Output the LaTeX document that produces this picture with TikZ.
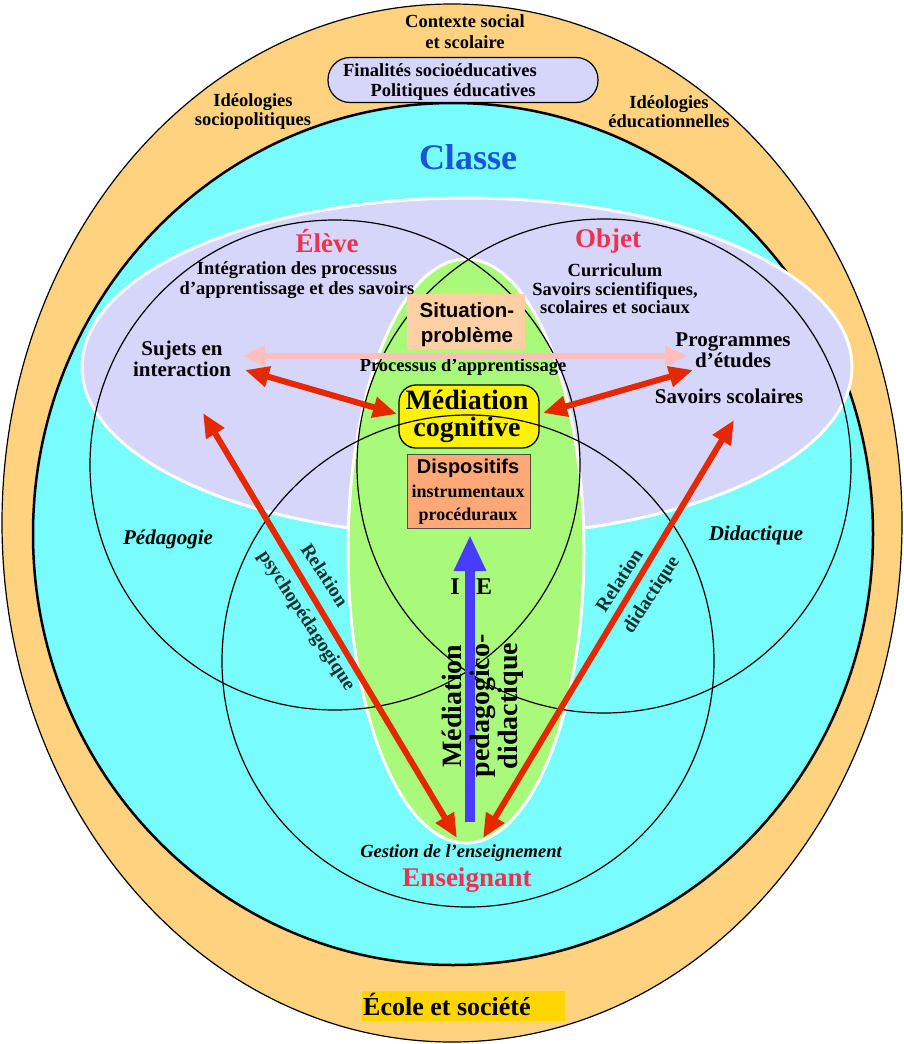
\documentclass[tikz,border=0pt]{standalone}
\usepackage{fontspec}
\setmainfont{Liberation Serif}
\newfontfamily\hv{Liberation Sans}
\usetikzlibrary{arrows.meta}
\definecolor{orangebg}{HTML}{FED27F}
\definecolor{cyanbg}{HTML}{78FCFC}
\definecolor{lav}{HTML}{D6D6FA}
\definecolor{greenbg}{HTML}{A9F97A}
\definecolor{peach}{HTML}{FFD0A5}
\definecolor{salmon}{HTML}{FFA878}
\definecolor{redA}{HTML}{E52800}
\definecolor{pinkA}{HTML}{FFBEBE}
\definecolor{titlered}{HTML}{F0304F}
\definecolor{classeblue}{HTML}{1A55D8}
\definecolor{arrowblue}{HTML}{4A3CFF}
\definecolor{ecole}{HTML}{FFD500}
\definecolor{reltext}{HTML}{15302F}
\begin{document}
\begin{tikzpicture}[x=1pt,y=-1pt,
  lbl/.style={align=center, inner sep=0pt, font=\bfseries\fontsize{18.5}{20}\selectfont},
  big/.style={align=center, inner sep=0pt, font=\bfseries\fontsize{21}{21}\selectfont},
  ttl/.style={inner sep=0pt, text=titlered, font=\bfseries\fontsize{27}{27}\selectfont},
  itl/.style={inner sep=0pt, font=\bfseries\itshape\fontsize{21}{21}\selectfont},
  rel/.style={align=center, inner sep=0pt, text=reltext, font=\bfseries\fontsize{19.5}{20}\selectfont},
  ring/.style={draw=black, line width=1.2pt},
  redarr/.style={draw=redA, line width=6pt, {Triangle[length=24pt,width=20pt]}-{Triangle[length=24pt,width=20pt]}},
]
\useasboundingbox (0,0) rectangle (904,1044);
% background ellipses
\fill[orangebg, draw=black, line width=1.2pt] (452,523) ellipse [x radius=450pt, y radius=519pt];
\fill[cyanbg, draw=black, line width=2.5pt] (453,534) ellipse [x radius=420pt, y radius=431pt];
\fill[lav, draw=white, line width=3pt] (467,367) ellipse [x radius=385pt, y radius=169pt];
\fill[greenbg, draw=white, line width=3pt] (466,551) ellipse [x radius=118pt, y radius=292pt];

% boxes under the rings
\node[draw=black, fill=lav, line width=1.2pt, rounded corners=22pt, minimum width=270pt, minimum height=45pt] (finbox) at (463,80) {};
\node[draw=black, fill=yellow, line width=1.3pt, rounded corners=17pt, minimum width=140pt, minimum height=63pt, inner sep=0pt] (medbox) at (469,416.5) {};
\node[draw=black!70, fill=salmon, line width=0.8pt, minimum width=123pt, minimum height=74pt, inner sep=0pt] (dispbox) at (468.5,491) {};
\node[fill=ecole, minimum width=203pt, minimum height=30pt, inner sep=0pt] (ecolebox) at (463.5,1006) {};

% circles
\draw[ring] (335,465) circle [radius=245pt];
\draw[ring] (604,466) circle [radius=247pt];
\draw[ring] (468,661) circle [radius=246pt];

% box over the rings
\node[fill=peach, minimum width=118pt, minimum height=55pt, inner sep=0pt] (sitbox) at (466,321.5) {};

% top labels
\node[lbl] (ctx) at (465,32) {Contexte social\\[1pt]et scolaire};
\node[lbl] (fin1) at (440,70) {Finalités socioéducatives};
\node[lbl] (fin2) at (453,92) {Politiques éducatives};
\node[lbl, font=\bfseries\fontsize{18.5}{19}\selectfont] (ideo1) at (253,112) {Idéologies\\sociopolitiques};
\node[lbl, font=\bfseries\fontsize{18.5}{19}\selectfont] (ideo2) at (669,112) {Idéologies\\éducationnelles};
\node[inner sep=0pt, text=classeblue, font=\bfseries\fontsize{36}{36}\selectfont] (classe) at (468,157) {Classe};

% eleve / objet
\node[ttl] (eleve) at (327,241) {Élève};
\node[lbl] (integ) at (297,280) {Intégration des processus\\d’apprentissage et des savoirs};
\node[ttl] (objet) at (608,241) {Objet};
\node[lbl, font=\bfseries\fontsize{18.5}{18.5}\selectfont] (curr) at (615,289) {Curriculum\\Savoirs scientifiques,\\scolaires et sociaux};
\node[big] (sujets) at (182,358.5) {Sujets en\\interaction};
\node[big] (prog) at (733,350.5) {Programmes\\d’études};
\node[big] (savsco) at (729,396) {Savoirs scolaires};

% center
\node[align=center, inner sep=0pt, font=\hv\bfseries\fontsize{20.5}{25}\selectfont] (sit) at (467,325) {Situation-\\problème};
\node[lbl] (proc) at (463,367) {Processus d’apprentissage};
\node[align=center, inner sep=0pt, font=\bfseries\fontsize{28}{27}\selectfont] (med) at (467,416) {Médiation\\cognitive};
\node[inner sep=0pt, font=\hv\bfseries\fontsize{20}{20}\selectfont] (disp) at (468,468) {Dispositifs};
\node[align=center, inner sep=0pt, font=\bfseries\fontsize{18}{23}\selectfont] (instr) at (468,504.5) {instrumentaux\\procéduraux};

\node[itl] (peda) at (168,539) {Pédagogie};
\node[itl] (dida) at (756,535) {Didactique};

\node[rel, rotate=-57] (rel1) at (325,575) {Relation};
\node[rel, rotate=-57] (rel2) at (306,621) {psychopédagogique};
\node[rel, rotate=57] (rel3) at (619,580) {Relation};
\node[rel, rotate=57] (rel4) at (652,595) {didactique};

% arrows
\coordinate (pinkL) at (243,356);
\coordinate (pinkR) at (687,356);
\draw[draw=pinkA, line width=6pt, {Triangle[length=22pt,width=20pt]}-{Triangle[length=22pt,width=20pt]}] (pinkL) -- (pinkR);
\coordinate (rA1) at (245,370);
\coordinate (rA2) at (397,414);
\coordinate (rB1) at (543,413);
\coordinate (rB2) at (693,370);
\draw[redarr] (rA1) -- (rA2);
\draw[redarr] (rB1) -- (rB2);

\coordinate (blueB) at (470,822);
\coordinate (blueT) at (470,535);
\draw[draw=arrowblue, line width=10pt, -{Triangle[length=36pt,width=30pt]}] (blueB) -- (blueT);

\coordinate (lT) at (203,413);
\coordinate (lB) at (457,838);
\coordinate (rT) at (734,420);
\coordinate (rB) at (483,838);
\draw[redarr] (lT) -- (lB);
\draw[redarr] (rT) -- (rB);

\node[inner sep=0pt, font=\bfseries\fontsize{24}{24}\selectfont] (iI) at (455,587) {I};
\node[inner sep=0pt, font=\bfseries\fontsize{24}{24}\selectfont] (iE) at (484,587) {E};
\node[rotate=90, align=center, inner sep=0pt, font=\bfseries\fontsize{28}{28}\selectfont] (medped) at (483,706) {Médiation\\pedagogico-\\didactique};

% bottom
\node[itl, font=\bfseries\itshape\fontsize{18.5}{19}\selectfont] (gest) at (461,853) {Gestion de l’enseignement};
\node[ttl] (ens) at (467,880) {Enseignant};
\node[inner sep=0pt, anchor=west, font=\bfseries\fontsize{26}{26}\selectfont] (ecole) at (363,1004) {École et société};
\end{tikzpicture}
\end{document}
